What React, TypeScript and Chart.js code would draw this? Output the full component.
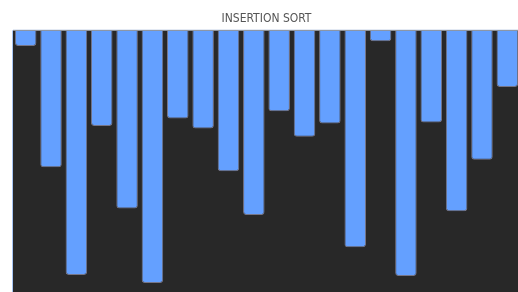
import React, { useEffect, useRef } from "react";
import { Chart, registerables } from "chart.js";

Chart.register(...registerables);

const categories: string[] = [
  "1", "2", "3", "4", "5", "6", "7", "8", "9", "10",
  "11", "12", "13", "14", "15", "16", "17", "18", "19", "20",
];
const values: number[] = [
  6, 52.3, 93.5, 36.5, 68.1, 96.6, 33.7, 37.5, 53.8, 70.6,
  30.9, 40.7, 35.6, 82.9, 4.1, 93.9, 35.2, 69.1, 49.4, 21.6,
];
const titleText = "INSERTION SORT";

const areaPlugin = {
  id: "areaBg",
  beforeDraw(chart: any) {
    const { ctx, chartArea } = chart;
    if (!chartArea) return;
    ctx.save();
    ctx.fillStyle = "#282828";
    ctx.fillRect(chartArea.left, chartArea.top, chartArea.right - chartArea.left, chartArea.bottom - chartArea.top);
    ctx.restore();
  },
  afterDraw(chart: any) {
    const { ctx, chartArea } = chart;
    if (!chartArea) return;
    ctx.save();
    ctx.lineWidth = 1;
    ctx.strokeStyle = "rgba(190,205,228,0.7)";
    ctx.beginPath();
    ctx.moveTo(chartArea.left, chartArea.top - 0.5);
    ctx.lineTo(chartArea.right, chartArea.top - 0.5);
    ctx.stroke();
    ctx.strokeStyle = "rgba(110,160,235,0.6)";
    ctx.beginPath();
    ctx.moveTo(chartArea.left - 0.5, chartArea.top);
    ctx.lineTo(chartArea.left - 0.5, chartArea.bottom);
    ctx.stroke();
    ctx.restore();
  },
};

export default function App() {
  const ref = useRef<HTMLCanvasElement | null>(null);
  useEffect(() => {
    if (!ref.current) return;
    const chart = new Chart(ref.current, {
      type: "bar",
      data: {
        labels: categories,
        datasets: [
          {
            data: values,
            backgroundColor: "#64a0ff",
            borderColor: "rgba(150,150,175,0.7)",
            borderWidth: 1,
            borderRadius: 3,
            barPercentage: 0.85,
            categoryPercentage: 1,
          },
        ],
      },
      options: {
        responsive: false,
        animation: false,
        layout: { padding: { left: 13, right: 0, top: 0, bottom: 0 } },
        plugins: {
          legend: { display: false },
          tooltip: { enabled: false },
          title: {
            display: true,
            text: titleText,
            color: "#555555",
            font: { family: "'Liberation Sans Narrow', 'DejaVu Sans Condensed', sans-serif", size: 12, weight: "normal", lineHeight: 1.2 },
            padding: { top: 11.5, bottom: 4.5 },
          },
        },
        scales: {
          x: { display: false },
          y: { display: false, reverse: true, min: 0, max: 100 },
        },
      },
      plugins: [areaPlugin],
    });
    return () => chart.destroy();
  }, []);
  return (
    <div style={{ position: "fixed", left: 0, top: 0, width: 520, height: 292 }}>
      <canvas ref={ref} width={520} height={292} style={{ width: 520, height: 292, display: "block" }} />
    </div>
  );
}
